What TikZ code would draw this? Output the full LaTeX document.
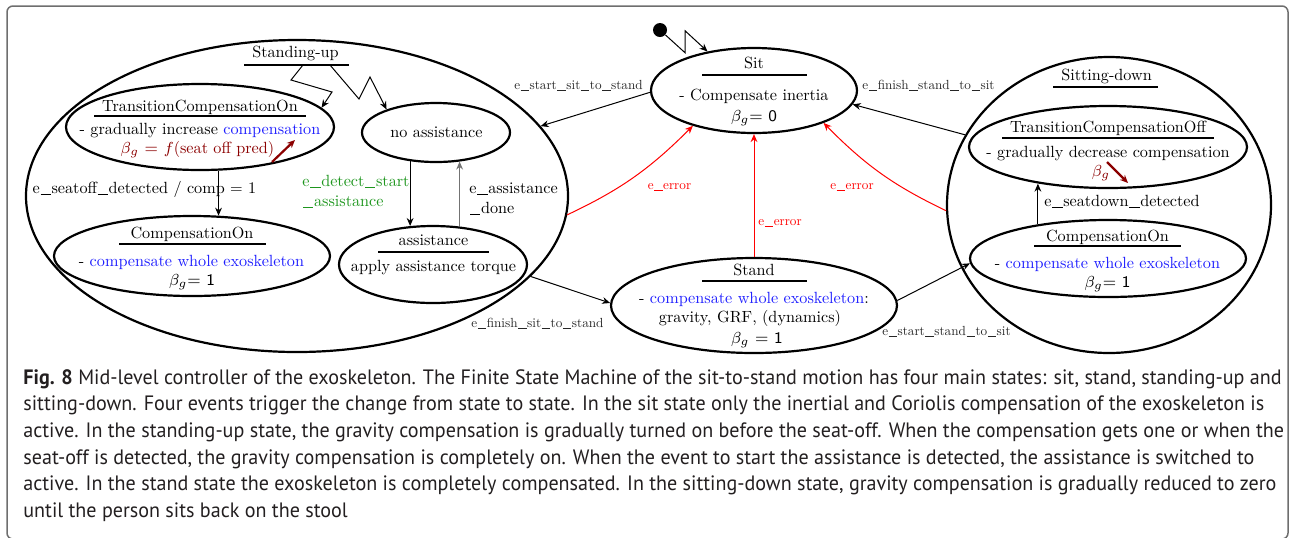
\documentclass[tikz,border=0pt]{standalone}
\usepackage{fontspec}
\setmainfont{lmroman10-regular.otf}[ItalicFont=lmroman10-italic.otf, BoldFont=lmroman10-bold.otf]
\newfontfamily\capfont{PT Sans}[FakeStretch=0.966]
\usetikzlibrary{arrows.meta,shapes.geometric,bending}
\definecolor{dred}{RGB}{139,0,0}
\definecolor{dgreen}{RGB}{30,150,30}
\definecolor{eblue}{RGB}{30,30,255}
\definecolor{framegray}{RGB}{110,110,110}
\definecolor{capgray}{RGB}{35,31,32}
\newcommand{\uu}{\kern0.04em\rule[-0.12em]{0.64em}{0.045em}\kern0.04em}
\begin{document}
\begin{tikzpicture}[x=0.5pt,y=-0.5pt,
  state/.style={draw, ellipse, line width=1.1pt, inner sep=0pt},
  txt/.style={inner sep=0pt, anchor=base, font=\fontsize{8.1pt}{9.5pt}\selectfont},
  lbl/.style={inner sep=0pt, anchor=base, text=black!85, font=\fontsize{6.6pt}{8pt}\selectfont},
  uline/.style={line width=0.6pt},
  conn/.style={line width=0.5pt, -{Stealth[length=4pt,width=3.4pt]}},
  err/.style={conn, red},
  captxt/.style={inner sep=0pt, anchor=base west, text=capgray, font=\capfont\fontsize{10.4pt}{13.3pt}\selectfont},
]
\useasboundingbox (0,0) rectangle (1290,537);
\draw[framegray, line width=0.75pt, rounded corners=3pt] (7,6) rectangle (1288,539);

% states
\node[state, minimum width=271pt, minimum height=156pt] (su) at (297,196) {};
\node[state, minimum width=134pt, minimum height=43pt] (tcon) at (200,127) {};
\node[state, minimum width=138pt, minimum height=40pt] (conl) at (192,256) {};
\node[state, minimum width=74pt, minimum height=29.5pt] (noa) at (436,132.5) {};
\node[state, minimum width=94pt, minimum height=38.5pt] (assist) at (433,264.5) {};
\node[state, minimum width=103pt, minimum height=42.5pt] (sit) at (754,90.5) {};
\node[state, minimum width=143pt, minimum height=47.5pt] (stand) at (754,305.5) {};
\node[state, minimum width=162pt, minimum height=148pt] (sd) at (1109,205) {};
\node[state, minimum width=139pt, minimum height=41pt] (tcoff) at (1108,147) {};
\node[state, minimum width=138pt, minimum height=38.5pt] (conr) at (1108,258.5) {};
\node[circle, fill, inner sep=0pt, minimum size=7pt] (init) at (660,30) {};

% texts: Standing-up
\node[txt] (sutitle) at (295.5,57) {Standing-up};
\draw[uline] (244,65) -- (349,65);
\node[txt] (tcont) at (200,111) {TransitionCompensationOn};
\draw[uline] (94,116) -- (306,116);
\node[txt] at (200,134) {- gradually increase \textcolor{eblue}{compensation}};
\node[txt, text=dred] at (197.5,153) {$\beta_g$\textsf{ = }$f$(seat off pred)};
\draw[dred, line width=1.1pt, -{Stealth[length=4pt,width=3.5pt]}] (272,162) -- (295,140);
\node[txt] (conlt) at (192,238) {CompensationOn};
\draw[uline] (119,244) -- (266,244);
\node[txt] at (191.5,266) {- \textcolor{eblue}{compensate whole exoskeleton}};
\node[txt] at (192,285) {$\beta_g$\textsf{= 1}};
\node[txt] (noat) at (436.5,137) {no assistance};
\node[txt] (assistt) at (433.5,245) {assistance};
\draw[uline] (378,252) -- (489,252);
\node[txt] at (433.5,271) {apply assistance torque};

% Sit
\node[txt] (sitt) at (754,68) {Sit};
\draw[uline] (702,75) -- (807,75);
\node[txt] at (754,100) {- Compensate inertia};
\node[txt] at (754,121) {$\beta_g$\textsf{= 0}};

% Stand
\node[txt] (standt) at (754,275) {Stand};
\draw[uline] (702,281) -- (807,281);
\node[txt] at (754,303) {- \textcolor{eblue}{compensate whole exoskeleton}:};
\node[txt] at (750,322) {gravity, GRF, (dynamics)};
\node[txt] at (757,343) {$\beta_g$\textsf{ = 1}};

% Sitting-down
\node[txt] (sdt) at (1106.5,80) {Sitting-down};
\draw[uline] (1053,87) -- (1158,87);
\node[txt] (tcofft) at (1108,132) {TransitionCompensationOff};
\draw[uline] (1002,138) -- (1214,138);
\node[txt] at (1108,157) {- gradually decrease compensation};
\node[txt, text=dred] at (1101,176) {$\beta_g$};
\draw[dred, line width=1.1pt, -{Stealth[length=4pt,width=3.5pt]}] (1107,162) -- (1128,183);
\node[txt] (conrt) at (1107.5,241) {CompensationOn};
\draw[uline] (1034,246) -- (1181,246);
\node[txt] at (1107.5,268) {- \textcolor{eblue}{compensate whole exoskeleton}};
\node[txt] at (1107.5,287) {$\beta_g$\textsf{= 1}};

% connectors
\coordinate (zA) at (303,65);
\coordinate (zB) at (330,65);
\draw[conn] (init) -- (685,52.7) -- (685,30.7) -- (sit.140);
\draw[conn] (zA) -- (291,80) -- (332,92) -- (tcon.9);
\draw[conn] (zB) -- (359,99) -- (370,77) -- (noa.155);
\draw[conn] (sit.181) -- (su.16);
\draw[conn] (tcon.293) -- (tcon.293 |- conl.57);
\draw[conn] (noa.228) -- (noa.228 |- assist.120);
\draw[conn, black!55] (assist.55) -- (assist.55 |- noa.309);
\draw[conn] (su.341) -- (stand.179);
\draw[conn] (stand.2) -- (conr.182);
\draw[conn] (sd.154) -- (sit.352);
\draw[conn] (conr.154) -- (conr.154 |- tcoff.208);
\draw[err] (su.356) to[bend right=10] (sit.210);
\draw[err] (stand.north) -- (sit.south);
\draw[err] (sd.182) to[bend left=10] (sit.335);

% connector labels
\node[lbl] at (578.5,89) {e\uu start\uu sit\uu to\uu stand};
\node[lbl] at (928.5,89) {e\uu finish\uu stand\uu to\uu sit};
\node[lbl, text=red] at (669.5,189) {e\uu error};
\node[lbl, text=red, anchor=base west] at (758,225) {e\uu error};
\node[lbl, text=red] at (852,189) {e\uu error};
\node[lbl] at (537.5,327) {e\uu finish\uu sit\uu to\uu stand};
\node[lbl] at (946.5,335) {e\uu start\uu stand\uu to\uu sit};
\node[txt] at (144.5,193) {e\uu seatoff\uu detected / comp = 1};
\node[txt, anchor=base west, text=dgreen] at (302,186) {e\uu detect\uu start};
\node[txt, anchor=base west, text=dgreen] at (302,206) {\uu assistance};
\node[txt, anchor=base west] at (469,193) {e\uu assistance};
\node[txt, anchor=base west] at (469,213) {\uu done};
\node[txt, anchor=base west] at (1044,206) {e\uu seatdown\uu detected};

% caption
\node[captxt] (c1) at (23,384) {\textbf{Fig. 8} Mid-level controller of the exoskeleton. The Finite State Machine of the sit-to-stand motion has four main states: sit, stand, standing-up and};
\node[captxt] (c2) at (23,410.7) {sitting-down. Four events trigger the change from state to state. In the sit state only the inertial and Coriolis compensation of the exoskeleton is};
\node[captxt] (c3) at (23,437.3) {active. In the standing-up state, the gravity compensation is gradually turned on before the seat-off. When the compensation gets one or when the};
\node[captxt] (c4) at (23,464) {seat-off is detected, the gravity compensation is completely on. When the event to start the assistance is detected, the assistance is switched to};
\node[captxt] (c5) at (23,490.7) {active. In the stand state the exoskeleton is completely compensated. In the sitting-down state, gravity compensation is gradually reduced to zero};
\node[captxt] (c6) at (23,517.3) {until the person sits back on the stool};
\end{tikzpicture}
\end{document}
